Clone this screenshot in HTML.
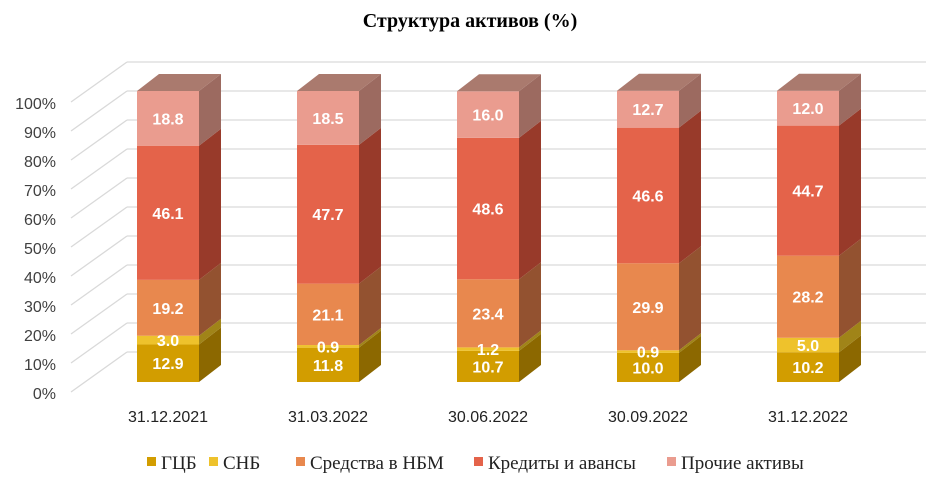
<!DOCTYPE html>
<html><head><meta charset="utf-8"><style>
body{margin:0;background:#fff;}
svg{display:block;}
</style></head><body>
<svg id="s" width="941" height="481" xmlns="http://www.w3.org/2000/svg">
<text x="470" y="27" text-anchor="middle" font-family="Liberation Serif, serif" font-weight="bold" font-size="20" fill="#000">Структура активов (%)</text>
</svg>
<script>
(function(){
const s=document.getElementById('s');const NS='http://www.w3.org/2000/svg';
function el(t,a,txt){const e=document.createElementNS(NS,t);for(const k in a)e.setAttribute(k,a[k]);if(txt!==undefined)e.textContent=txt;s.appendChild(e);return e;}
for(let i=0;i<=10;i++){const yb=352-i*29,yf=392-i*29;
el('line',{x1:71,y1:yf,x2:127,y2:yb,stroke:'#d9d9d9','stroke-width':1.3});
el('line',{x1:127,y1:yb,x2:926,y2:yb,stroke:'#d9d9d9','stroke-width':1.3});
el('text',{x:56,y:yf+7,'text-anchor':'end','font-family':'Liberation Sans, sans-serif','font-size':16,fill:'#404040'},(i*10)+'%');}
const data=[['31.12.2021',[12.9,3.0,19.2,46.1,18.8]],['31.03.2022',[11.8,0.9,21.1,47.7,18.5]],['30.06.2022',[10.7,1.2,23.4,48.6,16.0]],['30.09.2022',[10.0,0.9,29.9,46.6,12.7]],['31.12.2022',[10.2,5.0,28.2,44.7,12.0]]];
const front=['#D29D00','#EEC22C','#E8884E','#E4634A','#EA9C8F'];
const side=['#8C6800','#A08418','#935230','#983A2A','#9C6A60'];
const topC=['#A88000','#B89520','#B0683E','#B04A36','#AA7A6E'];
const base=382,sc=2.91,w=62,dx=22,dy=-17;
const labels=[];
data.forEach((d,bi)=>{const cx=168+bi*160,x0=cx-w/2;let cum=0;
d[1].forEach((v,j)=>{const y1=base-cum*sc,y0=base-(cum+v)*sc;cum+=v;
el('rect',{x:x0,y:y0,width:w,height:y1-y0,fill:front[j]});
el('polygon',{points:`${x0+w},${y1} ${x0+w+dx},${y1+dy} ${x0+w+dx},${y0+dy} ${x0+w},${y0}`,fill:side[j]});
if(j==4)el('polygon',{points:`${x0},${y0} ${x0+dx},${y0+dy} ${x0+w+dx},${y0+dy} ${x0+w},${y0}`,fill:topC[j]});
labels.push([cx,(y0+y1)/2+6,v.toFixed(1)]);});
el('text',{x:cx,y:422,'text-anchor':'middle','font-family':'Liberation Sans, sans-serif','font-size':16,fill:'#222'},d[0]);});
labels.forEach(l=>el('text',{x:l[0],y:l[1],'text-anchor':'middle','font-family':'Liberation Sans, sans-serif','font-weight':'bold','font-size':16,fill:'#fff'},l[2]));
const leg=[['ГЦБ',147],['СНБ',209],['Средства в НБМ',296],['Кредиты и авансы',474],['Прочие активы',667]];
leg.forEach((l,i)=>{el('rect',{x:l[1],y:457,width:9,height:9,fill:front[i]});
el('text',{x:l[1]+14,y:469,'font-family':'Liberation Serif, serif','font-size':19,fill:'#222'},l[0]);});
})();
</script>
</body></html>
